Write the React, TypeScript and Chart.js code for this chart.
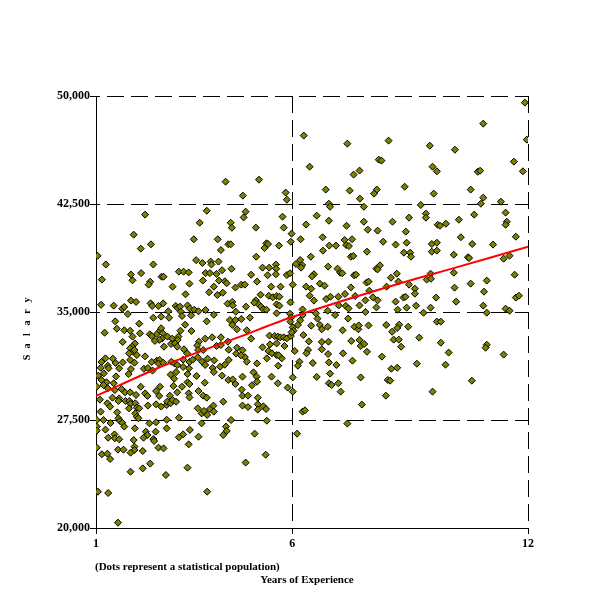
import { useEffect, useRef } from "react";
import { Chart, registerables } from "chart.js";

Chart.register(...registerables);

// [years of experience, salary], by experience band
const POINTS_LOW_EXP: [number, number][] = [
  [4.30, 44050], [2.25, 41760], [3.82, 42030], [3.64, 41200], [4.43, 41200], [4.46, 40850], [1.96, 40370], [3.49, 40050], [4.10, 40050],
  [2.14, 39400], [2.40, 39700], [4.37, 39700], [4.43, 39700], [4.18, 39300], [1.04, 38900], [1.25, 38300], [2.46, 38300], [3.55, 38600], [3.71, 38400],
  [3.92, 38500], [3.94, 38300], [4.12, 38500], [4.45, 38000], [1.89, 37600], [1.93, 37200], [2.15, 37700], [2.67, 37450], [2.72, 37450], [3.11, 37800],
  [3.23, 37800], [3.36, 37750], [3.79, 37700], [3.90, 37700], [4.07, 37640], [4.21, 37900], [1.15, 37250], [2.38, 37100], [2.34, 36900], [2.95, 36760],
  [3.38, 36970], [3.72, 37180], [4.13, 37180], [4.28, 37130], [4.33, 37000], [4.55, 36700], [4.00, 36760], [4.23, 36340], [3.88, 36370], [4.09, 36180],
  [3.28, 36230], [1.13, 35500], [1.45, 35440], [1.67, 35230], [1.72, 35350], [1.89, 35790], [2.02, 35700], [2.39, 35600], [2.43, 35420], [2.59, 35420],
  [2.71, 35600], [3.03, 35420], [3.08, 35280], [3.14, 35370], [3.33, 35460], [3.39, 35230], [3.50, 35160], [3.61, 35050], [3.79, 35140], [4.00, 34810],
  [4.35, 35580], [4.47, 35700], [4.48, 35460], [4.56, 35020], [1.81, 34860], [2.46, 34600], [2.84, 35050], [2.86, 34600], [2.66, 34680], [3.16, 35020],
  [3.19, 34720], [3.42, 34770], [3.82, 34350], [1.49, 34350], [1.53, 33840], [2.10, 34190], [1.72, 33730], [1.87, 33700], [1.22, 33560], [2.12, 33520],
  [2.37, 33450], [2.42, 33330], [2.55, 33470], [2.63, 33700], [2.66, 33870], [2.70, 33520], [2.68, 33150], [2.61, 33060], [2.50, 32990], [2.82, 33290],
  [2.94, 33150], [3.10, 33290], [3.15, 33700], [3.08, 33060], [3.27, 34120], [3.43, 33680], [3.78, 33150], [3.96, 33240], [4.18, 33240], [4.47, 34100],
  [4.41, 34440], [4.55, 34440], [4.59, 33800], [1.68, 32920], [1.93, 33290], [1.99, 32820], [1.92, 32590], [1.87, 32480], [1.93, 32250], [1.84, 32130],
  [1.98, 32360], [2.73, 32590], [2.91, 32780], [3.01, 32820], [3.07, 32590], [3.24, 32410], [3.32, 32130], [3.62, 32940], [3.58, 32680], [3.60, 32360],
  [3.73, 32360], [4.07, 32640], [4.18, 32710], [4.36, 32940], [4.38, 32380], [4.59, 32520], [1.14, 31530], [1.24, 31780], [1.43, 31760], [1.30, 31270],
  [1.32, 31090], [1.12, 31130], [1.20, 30740], [1.06, 30580], [1.14, 30280], [1.50, 31460], [1.68, 31500], [1.59, 31090], [1.87, 31670], [1.98, 31480],
  [2.04, 32010], [2.25, 31920], [1.89, 31040], [1.83, 30690], [1.51, 30530], [1.45, 30050], [1.27, 30120], [1.19, 29930], [1.02, 29810], [2.22, 31060],
  [2.32, 31110], [2.42, 31530], [2.55, 31620], [2.62, 31670], [2.59, 31430], [2.44, 30930], [2.71, 31480], [2.92, 31550], [3.00, 31430], [3.07, 31320],
  [3.22, 31690], [3.22, 31180], [3.38, 31530], [3.37, 31090], [3.46, 31690], [3.59, 31850], [3.70, 31550], [3.78, 31320], [3.84, 31760], [4.01, 31640],
  [3.97, 31110], [4.16, 31200], [4.28, 31340], [4.38, 31670], [4.57, 32110], [3.04, 30830], [2.90, 30650], [2.99, 30370], [3.33, 30690], [3.33, 30120],
  [3.56, 30560], [3.77, 30090], [4.00, 30830], [4.21, 30580], [4.37, 30280], [4.48, 30320], [4.55, 30000], [2.14, 29810], [2.63, 29810], [2.97, 29860],
  [3.19, 29810], [3.38, 30000],
  [1.30, 29700], [1.48, 29580], [1.65, 29650], [1.74, 29420], [1.87, 29420], [2.02, 29240], [2.25, 29350], [2.31, 29170], [2.53, 29510], [2.61, 29170],
  [2.88, 29190], [3.07, 29420], [3.36, 29350], [3.38, 29070], [3.61, 29510], [3.73, 29190], [3.82, 29050], [1.10, 28910], [1.29, 28660], [1.36, 28430],
  [1.42, 29050], [1.59, 29000], [1.57, 28820], [1.75, 28820], [1.85, 28820], [1.88, 28630], [1.84, 28310], [2.00, 28660], [2.04, 28360], [2.10, 28310],
  [2.00, 27960], [2.04, 27730], [2.08, 27620], [2.32, 28500], [2.53, 28590], [2.66, 28430], [2.80, 28540], [2.81, 28770], [2.90, 28660], [2.95, 28890],
  [3.04, 28770], [3.11, 27660], [1.12, 28080], [1.54, 28030], [1.02, 27500], [1.02, 27040], [1.02, 26760], [1.19, 27500], [1.24, 26830], [1.37, 27290],
  [1.57, 27620], [1.61, 27430], [1.67, 27310], [1.72, 27040], [1.99, 26920], [2.27, 26690], [2.31, 26460], [2.36, 27270], [2.53, 27340], [2.80, 27520],
  [2.80, 26920], [2.52, 26690], [2.46, 26180], [2.48, 26040], [3.39, 26810], [3.22, 26500], [3.11, 26300], [3.36, 25810], [3.61, 26340], [3.69, 27270],
  [3.83, 27850], [3.59, 28310], [3.69, 27960], [3.75, 28130], [3.90, 28260], [3.99, 28500], [4.00, 28080], [4.24, 28770], [4.44, 27500], [4.31, 27040],
  [4.33, 26740], [4.24, 26460], [1.31, 26270], [1.47, 26500], [1.48, 26230], [1.59, 26160], [1.96, 26110], [2.21, 26270], [1.98, 25650], [1.98, 25420],
  [1.56, 25440], [1.70, 25440], [2.19, 25350], [1.88, 25230], [2.59, 25580], [2.72, 25530], [1.02, 25580], [1.15, 25120], [1.29, 25160], [1.36, 24790],
  [2.38, 24470], [2.19, 24140], [1.88, 23910], [2.78, 23680], [3.33, 24190], [1.05, 22520], [1.31, 22430], [3.83, 22520], [1.56, 20370],
];

const POINTS_MID_EXP: [number, number][] = [
  [6.29, 47250], [7.40, 46690], [8.45, 46900], [6.44, 45090], [8.20, 45580], [8.27, 45510], [7.56, 44540], [7.71, 44820], [5.15, 44190], [4.74, 43080],
  [5.83, 43290], [5.86, 42800], [6.85, 43500], [7.46, 43430], [8.15, 43500], [8.08, 43220], [7.72, 42870], [6.93, 42520], [6.96, 42310], [7.82, 42310],
  [4.81, 41970], [4.76, 41570], [5.75, 41620], [6.62, 41690], [6.93, 41340], [6.35, 41070], [5.07, 40860], [5.78, 40860], [7.38, 40990], [7.82, 41270],
  [7.92, 40720], [8.17, 40650], [5.98, 40440], [6.21, 40050], [6.77, 40190], [7.33, 40000], [7.52, 40050],
  [5.34, 39770], [5.38, 39720], [5.29, 39440], [5.66, 39610], [5.96, 39880], [6.94, 39610], [7.11, 39610], [7.37, 39650], [7.44, 39580], [6.78, 39260],
  [6.47, 38840], [5.08, 38840], [7.49, 38840], [7.55, 38890], [7.90, 39190], [8.31, 39880], [5.24, 38080], [5.41, 38080], [5.58, 38290], [5.59, 38010],
  [6.09, 38330], [6.20, 38610], [6.25, 38260], [6.22, 38080], [6.91, 38150], [7.15, 38010], [7.22, 37730], [7.27, 37690], [5.58, 37620], [5.86, 37570],
  [5.94, 37690], [5.37, 37550], [4.95, 37590], [6.55, 37620], [6.50, 37480], [7.57, 37550], [7.62, 37590], [8.14, 38010], [8.23, 38240], [8.17, 37960],
  [4.70, 36900], [4.79, 36900], [5.10, 37110], [5.46, 36760], [5.70, 36760], [6.01, 36900], [6.35, 36760], [6.70, 36970], [6.82, 36830], [6.48, 36620],
  [7.49, 36710], [7.89, 37040], [7.94, 37110], [8.40, 36760], [7.96, 36480], [5.19, 36200], [5.40, 36130], [5.50, 36020], [5.60, 36110], [5.67, 36060],
  [5.07, 35810], [5.13, 35560], [5.03, 35650], [5.20, 35370], [5.26, 35180], [5.34, 35160], [4.82, 35370], [5.60, 35530], [5.67, 35440], [5.95, 35670],
  [6.44, 36130], [6.55, 35790], [6.86, 35900], [6.97, 36060], [7.17, 36060], [7.34, 36250], [7.60, 36110], [7.86, 35810], [7.71, 35460], [8.05, 36020],
  [8.17, 35810], [4.70, 34510], [4.92, 34610], [5.60, 34910], [5.94, 34880], [5.97, 34610], [6.26, 35180], [6.26, 34790], [6.20, 34420], [6.60, 34910],
  [6.64, 34540], [6.90, 35090], [7.09, 34790], [7.18, 35460], [7.36, 35420], [7.43, 35250], [7.42, 34540], [7.86, 35000], [8.14, 35320], [4.84, 33730],
  [4.95, 33150], [5.95, 34330], [6.01, 33930], [6.03, 33700], [6.14, 34100], [6.28, 33400], [6.48, 34050], [6.70, 34100], [6.75, 33800], [6.90, 33980],
  [7.28, 33730], [7.58, 33980], [7.68, 33800], [7.69, 34070], [7.94, 34070], [8.39, 34100], [5.42, 33360], [5.55, 33330], [5.63, 33290], [5.69, 33240],
  [5.78, 33240], [5.86, 33170], [5.96, 33330], [5.98, 33590], [5.80, 32640], [5.43, 32750], [5.60, 32820], [5.24, 32550], [5.39, 32290], [5.48, 32130],
  [5.60, 32010], [5.73, 31780], [5.65, 31990], [4.73, 32340], [4.79, 31870], [4.84, 31550], [4.69, 31990], [5.35, 31780], [5.10, 31430], [5.64, 31270],
  [6.06, 32290], [6.40, 32360], [6.36, 32130], [6.42, 32960], [6.75, 32920], [6.92, 32940], [6.75, 32410], [6.91, 32080], [6.93, 31500], [7.12, 31320],
  [7.29, 32130], [7.50, 32990], [7.71, 33060], [7.74, 32640], [7.83, 32780], [7.90, 32240], [8.28, 31900], [7.53, 31620], [6.18, 31550], [6.14, 31270],
  [6.52, 31460], [5.01, 30810], [4.73, 30510], [5.09, 30510], [5.10, 30160], [4.97, 29910], [5.47, 30510], [5.63, 30050], [6.01, 30460], [6.62, 30490],
  [6.96, 30720], [6.93, 30050], [7.00, 29930], [7.17, 30050], [7.74, 30460], [8.43, 30280],
  [4.71, 29610], [4.73, 29190], [4.87, 29190], [5.12, 29050], [4.73, 28500], [4.87, 28400], [5.12, 28590], [5.12, 28220], [5.26, 28450], [5.33, 28260],
  [5.35, 27450], [6.01, 29470], [5.88, 29750], [6.26, 28080], [6.32, 28170], [7.23, 29470], [8.38, 29190], [7.77, 28570], [7.40, 27250], [5.04, 26550],
  [6.12, 26550], [5.32, 25090], [4.81, 24540],
];

const POINTS_HIGH_EXP: [number, number][] = [
  [11.92, 49540], [10.86, 48080], [11.97, 46970], [9.50, 46550], [10.14, 46270], [11.64, 45440], [9.57, 45090], [9.68, 44770], [10.72, 44740], [10.78, 44810],
  [11.87, 44770], [8.86, 43700], [9.60, 43220], [10.54, 43500], [10.86, 42940], [10.80, 42520], [11.31, 42660], [9.27, 42430], [8.55, 41270], [8.97, 41550],
  [9.40, 41830], [9.40, 41550], [9.70, 41060], [9.76, 40990], [9.91, 41130], [10.24, 41410], [10.63, 41760], [11.43, 41900], [11.46, 41270], [11.43, 41060],
  [8.89, 40580], [10.29, 40190], [11.69, 40230],
  [8.63, 39680], [8.91, 39810], [9.55, 39720], [9.68, 39810], [10.58, 39720], [11.11, 39680], [8.84, 39120], [9.00, 39120], [9.02, 38840], [9.55, 39190],
  [9.68, 39260], [10.11, 38980], [10.47, 38800], [10.50, 38750], [11.38, 38700], [11.53, 38910], [8.51, 37380], [8.66, 37660], [8.70, 37110], [8.97, 36900],
  [9.42, 37250], [9.52, 37660], [9.53, 37310], [10.11, 37730], [10.54, 36970], [10.95, 37180], [11.66, 37590], [9.12, 36620], [9.12, 36270], [8.83, 36000],
  [8.88, 36060], [8.63, 35720], [9.66, 36000], [10.13, 36690], [10.17, 35720], [10.88, 36410], [11.69, 36000], [11.77, 36130], [9.15, 35440], [8.91, 35300],
  [8.68, 35160], [9.52, 35300], [9.34, 34950], [10.86, 35440], [10.95, 34950], [11.43, 35230], [11.53, 35090], [9.68, 34330], [9.78, 34330], [8.72, 34120],
  [8.67, 33890], [8.54, 33630], [8.95, 33980], [9.23, 33220], [8.58, 33080], [8.71, 33080], [8.77, 32590], [9.78, 32870], [9.98, 32180], [10.95, 32730],
  [10.92, 32520], [11.38, 32040], [9.17, 31410], [9.90, 31340], [8.52, 31060], [8.67, 31130], [8.49, 30230], [10.57, 30230], [9.57, 29470],
];

// fitted curve, read at a few spots along the red line
const TREND_YEARS = [1, 2.76, 4.67, 5.94, 8.49, 10.24, 12];
const TREND_SALARY = [29170, 31320, 33290, 34600, 36790, 38150, 39530];

const X_TICKS = [1, 6, 12];
const Y_TICKS = [20000, 27500, 35000, 42500, 50000];

const Y_TITLE = "Salary";
const X_TITLE = "Years of Experience";
const NOTE = "(Dots represent a statistical population)";

const FONT = "'Liberation Serif', 'Times New Roman', serif";

const textPlugin = {
  id: "salaryTexts",
  afterDraw(chart: any) {
    const { ctx, chartArea } = chart;
    ctx.save();
    ctx.fillStyle = "#000";
    ctx.font = `bold 11px ${FONT}`;
    ctx.textBaseline = "middle";
    ctx.textAlign = "left";
    ctx.fillText(NOTE, chartArea.left - 1, chartArea.bottom + 39);
    ctx.textAlign = "center";
    ctx.fillText(X_TITLE, chartArea.left + 211, chartArea.bottom + 52);

    // letter-spaced, rotated y title
    ctx.font = `bold 10px ${FONT}`;
    ctx.textBaseline = "alphabetic";
    Y_TITLE.split("").forEach((ch, i) => {
      ctx.save();
      ctx.translate(30, chartArea.top + 261.5 - i * 11.5);
      ctx.rotate(-Math.PI / 2);
      ctx.fillText(ch, 0, 0);
      ctx.restore();
    });
    ctx.restore();
  },
};

const SalaryScatter = () => {
  const canvasRef = useRef<HTMLCanvasElement>(null);

  useEffect(() => {
    if (!canvasRef.current) return;
    const population = [...POINTS_LOW_EXP, ...POINTS_MID_EXP, ...POINTS_HIGH_EXP].map(([x, y]) => ({ x, y }));
    const trend = TREND_YEARS.map((x, i) => ({ x, y: TREND_SALARY[i] }));

    const tickFont = { family: FONT, size: 12, weight: "bold" as const };

    const chart = new Chart(canvasRef.current, {
      type: "scatter",
      data: {
        datasets: [
          {
            label: "Trend",
            data: trend,
            showLine: true,
            borderColor: "#ff0000",
            borderWidth: 2,
            pointRadius: 0,
            tension: 0.3,
          },
          {
            label: "Population",
            data: population,
            pointStyle: "rectRot",
            pointRadius: 3.5,
            backgroundColor: "#808000",
            borderColor: "#000000",
            borderWidth: 1,
          },
        ],
      },
      options: {
        responsive: false,
        animation: false,
        layout: { padding: { top: 96, right: 72, left: 0, bottom: 0 } },
        plugins: {
          legend: { display: false },
          tooltip: { enabled: false },
        },
        scales: {
          x: {
            type: "linear",
            min: 1,
            max: 12,
            afterBuildTicks: (scale: any) => {
              scale.ticks = X_TICKS.map((value) => ({ value }));
            },
            afterFit: (scale: any) => {
              scale.height = 72;
            },
            grid: { color: "#000", lineWidth: 1, tickLength: 6, tickColor: "#000" },
            border: { color: "#000", width: 1, dash: [17, 7] },
            ticks: { color: "#000", font: tickFont, padding: 3, maxRotation: 0 },
          },
          y: {
            min: 20000,
            max: 50000,
            afterBuildTicks: (scale: any) => {
              scale.ticks = Y_TICKS.map((value) => ({ value }));
            },
            afterFit: (scale: any) => {
              scale.width = 96;
            },
            grid: { color: "#000", lineWidth: 1, tickLength: 6, tickColor: "#000" },
            border: { color: "#000", width: 1, dash: [17, 7], dashOffset: 14 },
            ticks: {
              color: "#000",
              font: tickFont,
              padding: 0,
              callback: (v: any) => Number(v).toLocaleString("en-US"),
            },
          },
        },
      },
      plugins: [textPlugin],
    });

    return () => {
      chart.destroy();
    };
  }, []);

  return (
    <div style={{ position: "absolute", left: 0, top: 0, width: 600, height: 600, background: "#fff" }}>
      <canvas ref={canvasRef} width={600} height={600}></canvas>
    </div>
  );
};

export default function App() {
  return <SalaryScatter />;
}
